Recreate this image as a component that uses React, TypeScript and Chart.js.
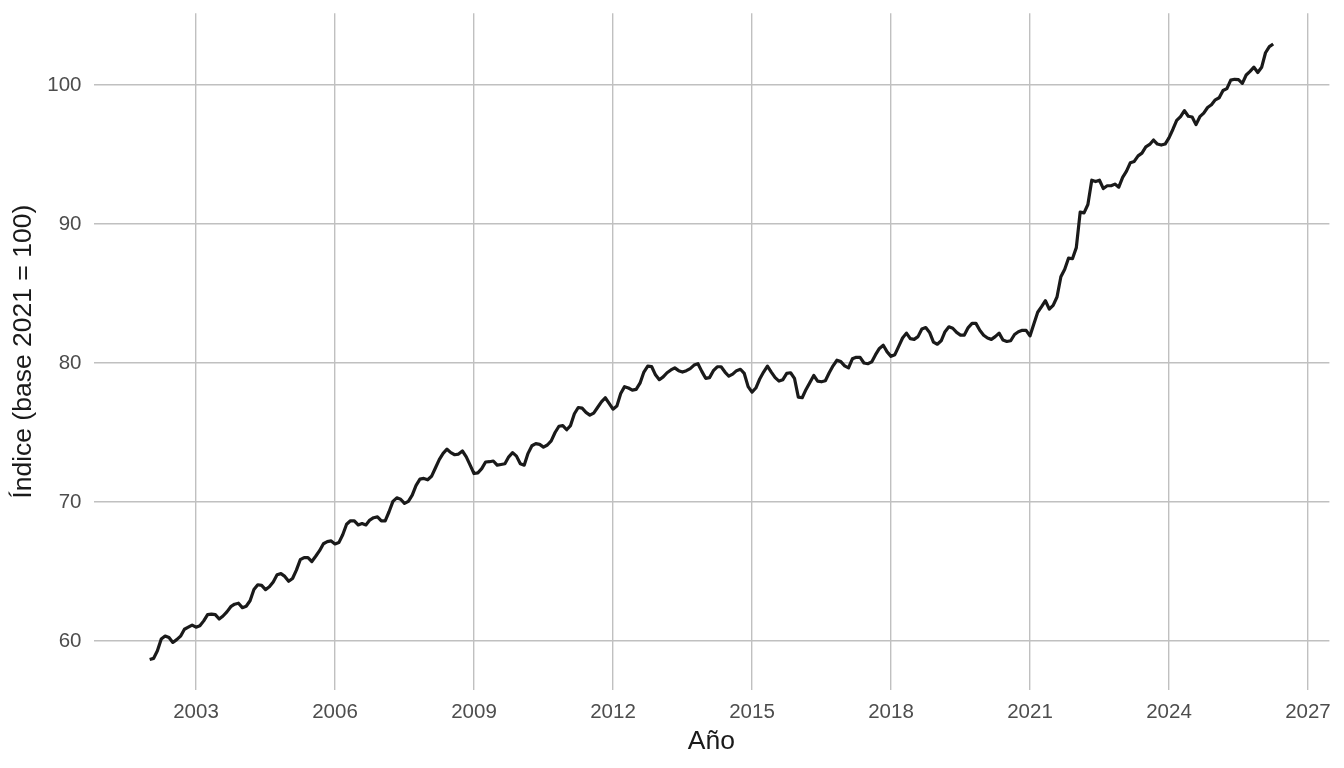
import React, { useEffect, useRef } from "react";
import { Chart, registerables } from "chart.js";

Chart.register(...registerables);

// Monthly index, starting January 2002
const startYear = 2002;
const indexValues = [
  58.67, 58.75, 59.3, 60.15, 60.36, 60.25, 59.9, 60.1, 60.35, 60.85, 61.0, 61.15,
  61.0, 61.1, 61.45, 61.9, 61.94, 61.9, 61.58, 61.8, 62.1, 62.47, 62.65, 62.72,
  62.4, 62.5, 62.9, 63.7, 64.05, 64.0, 63.7, 63.9, 64.25, 64.77, 64.85, 64.65,
  64.3, 64.5, 65.1, 65.85, 66.0, 66.0, 65.72, 66.1, 66.5, 67.0, 67.15, 67.2,
  66.98, 67.08, 67.65, 68.4, 68.65, 68.65, 68.35, 68.45, 68.35, 68.7, 68.87, 68.93,
  68.65, 68.65, 69.3, 70.05, 70.3, 70.2, 69.9, 70.05, 70.5, 71.2, 71.65, 71.7,
  71.6, 71.85, 72.45, 73.05, 73.5, 73.8, 73.55, 73.4, 73.45, 73.67, 73.25, 72.65,
  72.05, 72.1, 72.4, 72.88, 72.9, 72.95, 72.65, 72.7, 72.75, 73.25, 73.55, 73.3,
  72.75, 72.65, 73.5, 74.05, 74.2, 74.15, 73.95, 74.1, 74.4, 75.0, 75.45, 75.5,
  75.2, 75.5, 76.35, 76.8, 76.75, 76.45, 76.25, 76.4, 76.8, 77.2, 77.5, 77.1,
  76.68, 76.9, 77.8, 78.3, 78.2, 78.05, 78.1, 78.55, 79.35, 79.78, 79.75, 79.15,
  78.8, 79.0, 79.3, 79.5, 79.65, 79.45, 79.35, 79.45, 79.6, 79.85, 79.95, 79.4,
  78.9, 78.95, 79.45, 79.73, 79.73, 79.35, 79.05, 79.2, 79.45, 79.55, 79.25, 78.3,
  77.9, 78.2, 78.85, 79.35, 79.78, 79.35, 78.95, 78.7, 78.8, 79.25, 79.3, 78.9,
  77.55, 77.5, 78.1, 78.6, 79.1, 78.7, 78.65, 78.72, 79.3, 79.8, 80.2, 80.1,
  79.8, 79.65, 80.3, 80.41, 80.41, 80.0, 79.95, 80.08, 80.6, 81.05, 81.28, 80.8,
  80.48, 80.6, 81.2, 81.8, 82.15, 81.75, 81.7, 81.9, 82.45, 82.55, 82.2, 81.5,
  81.35, 81.6, 82.25, 82.6, 82.5, 82.2, 82.01, 82.01, 82.55, 82.85, 82.85, 82.35,
  82.0, 81.8, 81.7, 81.9, 82.15, 81.65, 81.55, 81.6, 82.05, 82.25, 82.35, 82.35,
  81.95, 82.8, 83.65, 84.05, 84.48, 83.88, 84.15, 84.75, 86.2, 86.75, 87.55, 87.5,
  88.3, 90.85, 90.8, 91.4, 93.15, 93.05, 93.15, 92.55, 92.75, 92.75, 92.87, 92.65,
  93.35, 93.8, 94.41, 94.5, 94.9, 95.1, 95.55, 95.72, 96.04, 95.75, 95.68, 95.75,
  96.2, 96.8, 97.45, 97.72, 98.15, 97.75, 97.7, 97.15, 97.72, 97.98, 98.38, 98.58,
  98.93, 99.08, 99.6, 99.74, 100.35, 100.41, 100.38, 100.12, 100.72, 100.98, 101.28, 100.9,
  101.27, 102.32, 102.76, 102.95,
];

const xTicks = [2003, 2006, 2009, 2012, 2015, 2018, 2021, 2024, 2027];
const yTicks = [60, 70, 80, 90, 100];

const xTitle = "Año";
const yTitle = "Índice (base 2021 = 100)";

const FONT = '"Liberation Sans", Arial, Helvetica, sans-serif';

export default function App() {
  const canvasRef = useRef<HTMLCanvasElement | null>(null);

  useEffect(() => {
    document.body.style.margin = "0";
    const canvas = canvasRef.current;
    if (!canvas) return;

    const points = indexValues.map((v, i) => ({ x: startYear + i / 12, y: v }));
    const xs = points.map((p) => p.x);
    const ys = points.map((p) => p.y);
    const xMinD = Math.min(...xs);
    const xMaxD = Math.max(...xs);
    const yMinD = Math.min(...ys);
    const yMaxD = Math.max(...ys);
    const xExp = (xMaxD - xMinD) * 0.05;
    const yExp = (yMaxD - yMinD) * 0.05;

    const chart = new Chart(canvas, {
      type: "line",
      data: {
        datasets: [
          {
            data: points,
            borderColor: "#1a1a1a",
            borderWidth: 3.2,
            pointRadius: 0,
            tension: 0,
            borderJoinStyle: "round",
            borderCapStyle: "butt",
            fill: false,
          },
        ],
      },
      options: {
        animation: false,
        responsive: false,
        maintainAspectRatio: false,
        layout: { padding: { top: 13.2, right: 14.6, bottom: 0, left: 0 } },
        plugins: {
          legend: { display: false },
          tooltip: { enabled: false },
        },
        scales: {
          x: {
            type: "linear",
            min: xMinD - xExp,
            max: xMaxD + xExp,
            afterBuildTicks: (axis: any) => {
              axis.ticks = xTicks.map((v) => ({ value: v }));
            },
            afterFit: (scale: any) => {
              scale.height = 77.7;
              scale.paddingLeft = 0;
              scale.paddingRight = 0;
            },
            grid: { color: "#c0c0c0", lineWidth: 1.4, drawTicks: false },
            border: { display: false },
            ticks: {
              color: "#4d4d4d",
              font: { family: FONT, size: 20.5 },
              padding: 10,
              maxRotation: 0,
              autoSkip: false,
              callback: (v: any) => String(v),
            },
            title: {
              display: true,
              text: xTitle,
              color: "#1a1a1a",
              font: { family: FONT, size: 26.5 },
              padding: { top: 0, bottom: 10.5 },
            },
          },
          y: {
            type: "linear",
            min: yMinD - yExp,
            max: yMaxD + yExp,
            afterBuildTicks: (axis: any) => {
              axis.ticks = yTicks.map((v) => ({ value: v }));
            },
            afterFit: (scale: any) => {
              scale.width = 93.5;
              scale.paddingTop = 0;
              scale.paddingBottom = 0;
            },
            grid: { color: "#c0c0c0", lineWidth: 1.4, drawTicks: false },
            border: { display: false },
            ticks: {
              color: "#4d4d4d",
              font: { family: FONT, size: 20.5 },
              padding: 12,
              callback: (v: any) => String(v),
            },
            title: {
              display: true,
              text: yTitle,
              color: "#1a1a1a",
              font: { family: FONT, size: 26.5 },
              padding: { top: 8, bottom: 0 },
            },
          },
        },
      },
    });

    return () => chart.destroy();
  }, []);

  return (
    <div style={{ width: 1344, height: 768, background: "#ffffff" }}>
      <canvas ref={canvasRef} width={1344} height={768} style={{ display: "block" }} />
    </div>
  );
}
